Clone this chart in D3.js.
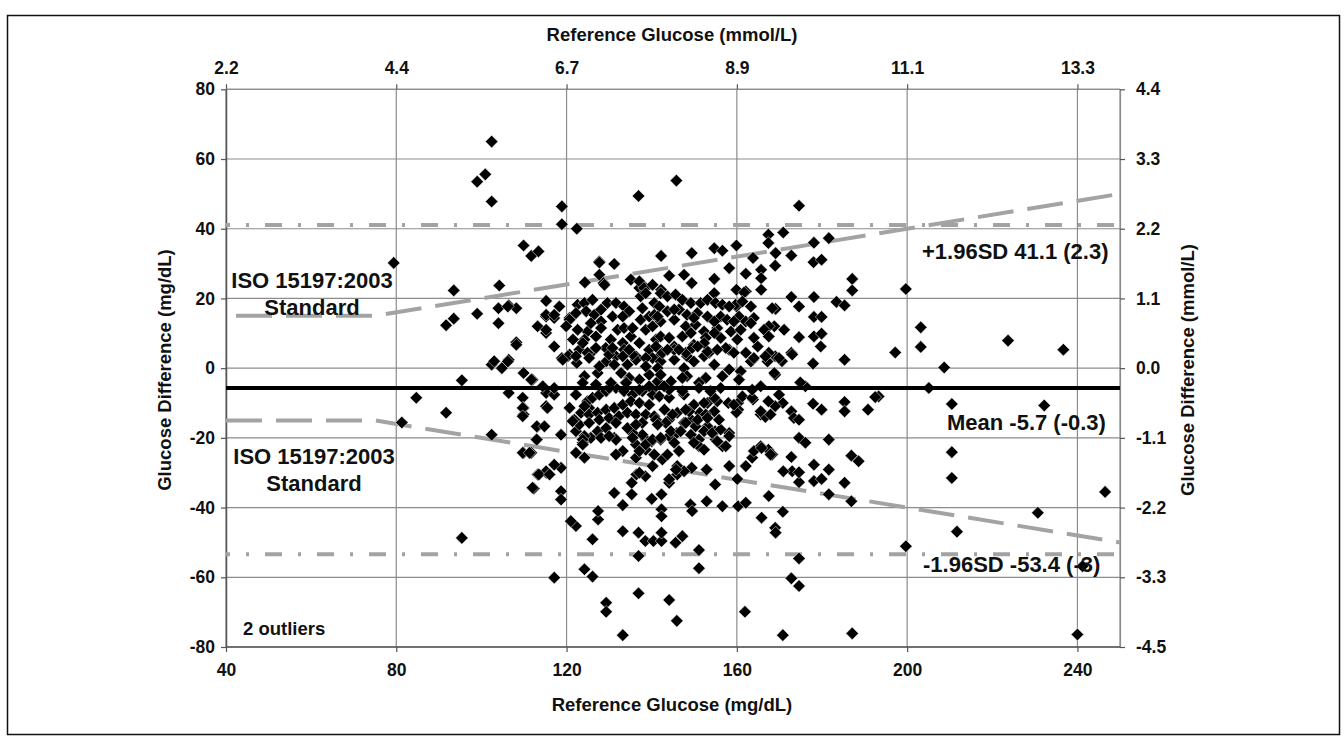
<!DOCTYPE html>
<html><head><meta charset="utf-8">
<script src="https://cdn.jsdelivr.net/npm/d3@7"></script>
<style>body{margin:0;background:#fff}</style>
</head><body>
<svg id="c" width="1344" height="743"></svg>
<script>
// ---- data ----
const xTicks = [40, 80, 120, 160, 200, 240];
const xTopLabels = ["2.2", "4.4", "6.7", "8.9", "11.1", "13.3"];
const yTicks = [80, 60, 40, 20, 0, -20, -40, -60, -80];
const yRightLabels = ["4.4", "3.3", "2.2", "1.1", "0.0", "-1.1", "-2.2", "-3.3", "-4.5"];
const meanDiff = -5.7;
const upperSD = 41.1;
const lowerSD = -53.4;
const isoX = [40, 75, 250];
const isoUpper = [15, 15, 50];
const isoLower = [-15, -15, -50];
const annotations = ["ISO 15197:2003", "Standard", "+1.96SD 41.1 (2.3)", "Mean -5.7 (-0.3)", "-1.96SD -53.4 (-3)", "2 outliers"];
// [reference glucose mg/dL, difference mg/dL]
const points = [
[79.4,30.2],[81.3,-15.6],[84.7,-8.5],[91.7,-12.8],[95.4,-3.5],[95.4,-48.7],
[102.4,1],[103,2],[104.8,0],[106.4,2.4],[106.4,-7.1],[108.2,7.4],[102.4,-19.1],[109.9,-1.4],[109.7,-8.5],[109.9,-11.4],[109.9,-13.3],[109.9,-24.3],[111.7,-24.3],[112,-3.3],[113.1,-16.8],[112.9,-20.5],[113.2,-30.5],[112.3,-34.5],[115.2,-30],[115.2,-11],[115.2,-7.1],
[102.4,65],[99,53.5],[100.9,55.6],[102.4,47.8],[93.5,22.3],[91.7,12.3],[93.5,14.2],[99,15.6],[104.2,23.7],[104,17.2],[106.4,18],[108.2,17.2],[104,12.9],[109.9,35.2],[111.7,32.2],[113.4,33.5],[115.2,19.3],[115.2,14.8],[113.2,12],[115.2,10.1],
[118.9,46.4],[118.9,41.3],[122.4,40],[136.9,49.4],[145.8,53.8],[174.6,46.6],
[127.7,30.6],[131.2,29.9],[127.7,26.8],[128.7,24.4],[124.3,24.6],[117.1,14.4],[117.1,6.2],[120.7,14.4],[106.2,17.7],
[142.2,32.2],[149.4,33],[154.7,34.4],[156.6,33.7],[159.9,35.2],[158.2,28.7],[163.8,31.6],[167.4,38.3],[167.4,35.9],[170.9,38.9],[169.1,33],[172.8,32.3],[169,29.4],[178.1,36],[181.6,37.3],[178,30.4],[179.9,31.1],[187.1,25.6],[187.1,22.3],[183.4,19],[185.3,18],[178.1,20.4],[172.8,20.4],[174.6,17.7],[178.1,14.7],[169.1,17],[178.1,9.1],[179.9,9.9],[174.6,8.9],[165.7,28.2],[165.7,25.8],[165.7,22.5],[162.1,27.1],[162.1,22],[154.7,25.6],[154.7,21.5],[149.4,24.4],[147.6,26.8],[144.1,26.5],[135.1,25.4],[137.1,23],[138.6,23],[142.2,22.5],[159.9,22.5],[161.7,21.7],[159.9,17.7],[168.8,12],[171.1,11],[172.8,4.4],[179.9,14.7],[197.2,4.5],
[199.7,22.7],[203.2,11.7],[203.2,6.1],[223.7,7.9],[236.7,5.3],
[208.7,0.2],[205.1,-5.7],[210.5,-10.3],[232.2,-10.7],[210.5,-24.1],[210.5,-31.5],[246.5,-35.5],[230.7,-41.5],[211.7,-46.9],[199.7,-51.1],[241.2,-56.8],[240,-76.4],[193.3,-8.1],
[117.1,-60.1],[124.2,-57.7],[126.1,-59.8],[129.3,-67.3],[129.3,-69.9],[133.2,-76.6],[136.9,-64.6],[136.9,-53.9],[144.1,-66.5],[145.9,-72.5],[151.1,-52.2],[151.1,-57.4],[161.9,-69.9],[170.8,-76.6],[172.8,-60.3],[174.6,-62.5],[174.6,-54.6],[187.1,-76.1],
[133.2,-46.8],[136.9,-47.2],[138.5,-49.6],[140.4,-49.6],[142.3,-49.6],[142.3,-47.2],[145.6,-50.1],[147.2,-48.2],[126.1,-49.1],[127.4,-43.4],[127.4,-41],[122.2,-45.3],[121,-43.9],
[131.2,-35.8],[133.2,-39.3],[135.3,-36.2],[135.3,-32.9],[136.4,-30.5],[138.5,-31],[140,-37.5],[142.3,-36.2],[142.3,-40.5],[142.3,-42.5],[144.1,-32.9],[146,-30.5],[146,-28.1],[149.1,-39.1],[149.5,-41],[152.9,-38.2],[154.9,-33.4],[156.6,-39.6],[160.3,-39.6],[162.1,-38.6],[160.1,-31.8],[165.8,-42.9],[169,-45.8],[169.1,-47.2],[170.8,-41.2],[167.5,-36.7],
[173,-29.6],[174.6,-32.7],[174.6,-29.9],[178.1,-27.7],[178.1,-32.4],[179.9,-31.8],[181.6,-29.1],[181.6,-36.2],[185.3,-32.9],[186.9,-38.2],[186.9,-25.1],[188.6,-26.7],[170.9,-29.6],[172.8,-25.5],[174.6,-20],[176.1,-21.4],[181.6,-20.5],
[190.8,-11.9],[192.5,-8.3],[185.3,-9.7],[185.3,-12.4],[179.9,-11.9],[177.9,-10.2],[172.8,-12.4],[173.4,-14.3],[174.6,-14.8],[176.1,-5.2],[174.9,-4.1],[185.3,2.4],[177.9,1.3],[179.7,6.2],[173,3.9],[169,3.4],[170.6,2],[169,-1.9],[170.8,-10],[169,-10.9],[167.4,-9.5],[165.6,-13.3],[166.7,-14],[163.8,-9],[163.8,2.4],[162.1,4.4],[160.3,-10],[160.3,-11.9],[158.2,5.3],[158.2,-18.6],[158.2,-28.1],[162.1,-28.1],[163.6,-25.7],[165.6,-22.4],[167.4,-23.4],[168.3,-24.8],
[156.6,-22.4],[155,-20.5],[154.9,-18.1],[153.1,-16.7],[151.1,-20.5],[151.1,-22.4],[152.9,-29.1],[149.4,-28.6],[147.6,-29.6],[145.7,-29.1],[144.1,-31.9],[140.2,-28.1],[137.1,-30],[142.5,-26.2],[140,-21],[142.1,-20.5],[144.1,-19.5],[145.9,-18.6],[147.6,-15.7],[149.3,-14.8],[151.3,-12.8],[153.1,-10],[155.4,-9.5],[158,-10],[159.9,-12.7],
[138.6,-20.5],[136.7,-22.4],[138.6,-23.4],[136.3,-25.7],[133.2,-23.8],[131.6,-24.8],[131.2,-20],[127.7,-19.5],[125.7,-20],[124.2,-19.5],[123.8,-21.4],[122.2,-18.1],[122.2,-15.2],[123.4,-12.8],[125.3,-11.4],[124.9,-9.5],[124.2,-25.7],[122.2,-24.3],
[118.7,-19.1],[118.7,-28.6],[118.7,-35.3],[118.7,-37.7],[117.1,-27.7],[115.2,-29.6],[113.5,-30.5],[116,-30.5],[112,-34.3],[109.7,-24.3],[111.3,-24.3],[113,-20.5],[113,-16.7],[120.7,-11.4],[115.2,-10.9],[117.1,-7.6],[109.7,-11.4],[109.7,-13.8],[111.7,-3.3],[106.2,1.9],[108.2,6.7],[118.9,2.9],[120.7,3.9],[122.4,1.5],
[127.7,30.3],[128.9,23.9],[115.2,15.3],[117.1,15.3],[115.2,11],[120.7,13.9],[122.6,18.2],[124.2,18.7],[126.1,19.6],[124.6,16.3],[126.5,15.3],[128.1,16.8],[129.6,18.7],[131.6,18.7],[133.5,17.7],[134.7,16.3],[128.1,13.4],[128.1,11.5],[124.9,10.5],[122.6,11],[124.2,8.2],[126.9,9.1],[132,11],[133.5,11.5],[135.1,9.1],[133.2,7.2],[130.4,8.2],[129.2,5.8],[126.1,4.8],[123,5.3],[120.3,3.4],
[137.4,13.9],[137.1,24.9],[138.2,23],[137.4,20.6],[138.6,21.5],[140.2,23.9],[140.6,18.7],[137.8,17.2],[139.4,14.8],[138.6,11],[137.1,7.2],[139.4,5.3],[141,8.2],[136.3,3.4],[131.6,3.4],
[159.7,18.2],[161.3,19.1],[163.3,17.7],[168.3,17.2],[167.5,12],[142.1,21.5],[143.7,20.6],[145.6,21.1],[147.2,19.6],[149.2,18.7],[151.5,18.7],[153.1,19.6],[155,18.7],[156.6,18.2],[158.2,17.7],[141.8,17.7],[143.7,16.3],[146.4,16.8],[148.3,15.3],[150.7,15.8],[153.1,14.8],[156.2,14.8],[157.7,13.9],[160.5,14.8],[162.1,13.4],[164,14.4],
[142.1,13.4],[145.3,13.9],[148,12],[150.3,12.5],[152.3,10.5],[155.4,11.5],[158.6,10.5],[160.9,11],[163.3,12.9],[166.4,11],[167.5,9.1],[164,8.7],[164.9,6.2],[142.1,9.1],[144.1,8.7],[147.2,9.1],[152.7,8.7],[156.2,8.7],[160.1,8.2],[145.3,6.2],[149.9,6.7],[153.5,4.4],[157.4,5.8],[159.3,4.4],[167.5,4.4],[148.3,3.4],[141.8,3.4],
[122.2,3.4],[124.2,-2.3],[127.3,-1.4],[129.3,1.9],[131.2,1],[132.8,-1.4],[134.7,-2.8],[137.1,-3.3],[139.4,-1.9],[134.3,1],[136.3,2.4],[140.2,2.9],[117.1,-5.7],[122.2,-7.6],[124.2,-10.9],[126.1,-8.5],[127.7,-7.6],[129.3,-6.6],[131.6,-5.7],[133.5,-6.6],[135.5,-7.6],[137.8,-6.6],[140.2,-7.6],
[125.3,-13.3],[127.3,-12.8],[129.3,-11.9],[131.2,-11.4],[133.2,-10.5],[135.1,-9.5],[137.1,-10],[139.4,-10.5],[123,-16.2],[125.3,-15.7],[127.7,-14.8],[130,-14.3],[132.3,-13.8],[134.3,-12.8],[136.3,-13.3],[138.6,-13.3],[140.6,-13.8],[123.8,-20.5],[131.6,-20.5],[137.8,-19.1],[136.3,-21.9],[138.6,-21.9],[140.2,-20.5],[123.8,-21.9],[115.5,-11.4],[114.8,-16.7],[137.1,-23.8],[140.6,-24.8],
[142.1,1.9],[145.3,2.4],[147.6,0],[149.9,1.9],[152.3,3.4],[154.7,1],[156.6,-2.3],[158.2,-0.4],[160.9,-0.9],[163.3,1.9],[164,2.9],[167.2,1.9],[168.8,-1.4],[169.9,2.9],[148.3,-2.3],[152.7,-2.8],
[141.8,-8.1],[144.1,-8.5],[147.6,-7.6],[149.9,-10.5],[152.3,-10],[154.7,-8.5],[154.7,-12.4],[148.8,-12.4],[146,-12.8],[143,-11.9],[144.1,-14.8],[148,-15.7],[150.3,-16.7],[152.3,-18.1],[154.2,-18.6],[156.2,-17.6],[158.2,-19.5],[155.4,-21],[157.4,-22.4],[142.1,-20],[145.3,-21.4],[146.4,-23.8],[159.3,-10.5],[161.3,-8.1],[163.6,-8.5],[165.6,-12.4],[167.9,-13.3],[169.9,-7.6],[164,-23.8],[165.8,-22.9],[167.9,-24.8],
[123.8,7.2],[124.9,4.4],[126.9,5.8],[130,3.9],[133.5,5.3],[135.5,3.9],[138.6,2.9],[141,6.2],[142.5,4.4],[145.3,5.3],[148,4.4],[149.5,5.8],[153.1,4.8],[152.3,7.2],[166.7,3.4],
[151.1,-4.2],[147.2,-2.8],[144.1,-6.2],[141,-5.2],[137.1,-6.2],[133.9,-4.2],[130,-5.7],[126.9,-4.7],[123.8,-4.2],[160.5,-3.3],[163.6,-6.2],[165.6,-5.2],
[121.8,-14.8],[135.5,-18.6],[137.8,-15.7],[141,-14.8],[143.3,-15.7],[144.9,-13.3],[148,-11.9],[152.7,-13.3],
[119.1,2.4],[125.3,2.9],[127.7,0.5],[133.2,3.4],[138.6,0.5],[141.4,0],[114.4,-5.2],[130.4,-4.2],[134,-4.2],[139.4,-5.2],[141.4,-3.8],
[127.3,-18.1],[129.3,-17.2],[134.3,-17.2],[136.3,-16.2],[128.1,-20],[130,-19.5],[135.5,-20],[131.6,-15.7],[121.4,-15.2],
[142.1,-1.9],[144.5,-3.8],[151.1,-5.7],[153.8,-6.6],[156.2,-5.7],[144.5,-18.1],[146.8,-18.1],[149.2,-19.1],[150.8,-14.8],[153.1,-14.3],[155.8,-14.8],[141.4,-16.2],[143.7,-24.8],[149.9,-21.4],[152.3,-23.4],[147.2,-6.6],[142.9,-5.2],
[118.3,17.7],[119.9,12],[121.5,8.2],[130.8,14.8],[133.2,14.8],[130.8,5.8],[134.7,5.3],[140.2,12],[140.6,15.3],[125.7,12.9],[122.2,15.8],[135.5,11.5],
[141.4,14.8],[145.3,16.8],[149.9,14.4],[154.7,13.4],[159.3,13.4],[149.2,10.1],[154.7,10.1],[150.8,6.2],[155.4,5.3],[146.4,5.3],[143.7,5.3]
];

// ---- layout ----
const svg = d3.select("#c");
const L = 226, R = 1120, T = 89.3, B = 647;
const x = d3.scaleLinear().domain([40, 250]).range([L, R]);
const y = d3.scaleLinear().domain([-80, 80]).range([B, T]);
const FONT = "'Liberation Sans', Arial, Helvetica, sans-serif";
const gridColor = "#8c8c8c";
const refColor = "#a3a3a3";

// outer frame
svg.append("rect").attr("x", 7.5).attr("y", 15.5).attr("width", 1332).attr("height", 719)
  .attr("fill", "none").attr("stroke", "#111").attr("stroke-width", 1.5);

// grid
const g = svg.append("g");
g.selectAll("line.hg").data(yTicks).join("line")
  .attr("x1", L).attr("x2", R).attr("y1", d => y(d)).attr("y2", d => y(d))
  .attr("stroke", gridColor).attr("stroke-width", 1.2);
g.selectAll("line.vg").data(xTicks).join("line")
  .attr("y1", T).attr("y2", B).attr("x1", d => x(d)).attr("x2", d => x(d))
  .attr("stroke", gridColor).attr("stroke-width", 1.2);
g.append("line").attr("x1", R).attr("x2", R).attr("y1", T).attr("y2", B)
  .attr("stroke", gridColor).attr("stroke-width", 1.2);

// axes
const axisStyle = sel => {
  sel.select(".domain").attr("stroke", "#555").attr("stroke-width", 1.5);
  sel.selectAll(".tick line").attr("stroke", "#555").attr("stroke-width", 1.2);
  sel.selectAll("text").attr("font-family", FONT).attr("font-weight", "bold").attr("font-size", 17.5).attr("fill", "#111");
};
const plain = d => String(d);
svg.append("g").attr("transform", `translate(${L},0)`)
  .call(d3.axisLeft(y).tickValues(yTicks).tickSize(5).tickSizeOuter(0).tickPadding(6).tickFormat(plain))
  .call(axisStyle);
svg.append("g").attr("transform", `translate(${R},0)`)
  .call(d3.axisRight(y).tickValues(yTicks).tickSize(5).tickSizeOuter(0).tickPadding(11)
    .tickFormat((d, i) => yRightLabels[i]))
  .call(axisStyle)
  .call(s => s.select(".domain").attr("stroke", gridColor).attr("stroke-width", 1.2));
svg.append("g").attr("transform", `translate(0,${B})`)
  .call(d3.axisBottom(x).tickValues(xTicks).tickSize(5).tickSizeOuter(0).tickPadding(12).tickFormat(plain))
  .call(axisStyle)
  .call(s => s.select(".domain").attr("d", `M${L},0H${R}`));
svg.append("g").attr("transform", `translate(0,${T})`)
  .call(d3.axisTop(x).tickValues(xTicks).tickSize(5).tickSizeOuter(0).tickPadding(10)
    .tickFormat((d, i) => xTopLabels[i]))
  .call(axisStyle)
  .call(s => s.select(".domain").attr("stroke", gridColor).attr("stroke-width", 1.2).attr("d", `M${L},0H${R}`));

// axis titles
const title = (txt, tx, ty, rot) => svg.append("text")
  .attr("transform", `translate(${tx},${ty}) rotate(${rot})`)
  .attr("text-anchor", "middle").attr("font-family", FONT).attr("font-weight", "bold")
  .attr("font-size", 18.5).attr("fill", "#111").text(txt);
title("Reference Glucose (mmol/L)", 672, 41, 0);
title("Reference Glucose (mg/dL)", 672, 711, 0);
title("Glucose Difference (mg/dL)", 171, 370, -90);
title("Glucose Difference (mmol/L)", 1194, 370, -90);

// reference lines
const line = d3.line().x(d => x(d[0])).y(d => y(d[1]));
svg.append("path").datum(isoX.map((v, i) => [v, isoUpper[i]])).attr("d", line)
  .attr("fill", "none").attr("stroke", refColor).attr("stroke-width", 4)
  .attr("stroke-dasharray", "36,14").attr("stroke-dashoffset", -10);
svg.append("path").datum(isoX.map((v, i) => [v, isoLower[i]])).attr("d", line)
  .attr("fill", "none").attr("stroke", refColor).attr("stroke-width", 4)
  .attr("stroke-dasharray", "36,14");
[upperSD, lowerSD].forEach(v => {
  svg.append("path").datum([[40, v], [250, v]]).attr("d", line)
    .attr("fill", "none").attr("stroke", refColor).attr("stroke-width", 4)
    .attr("stroke-dasharray", "17,16,3,16").attr("stroke-dashoffset", 13);
});

// points
svg.append("g").selectAll("path").data(points).join("path")
  .attr("transform", d => `translate(${x(d[0])},${y(d[1])})`)
  .attr("d", "M0,-6.3L6.3,0L0,6.3L-6.3,0Z")
  .attr("fill", "#000").attr("stroke", "#fff").attr("stroke-width", 0.5);

// mean line
svg.append("path").datum([[40, meanDiff], [250, meanDiff]]).attr("d", line)
  .attr("fill", "none").attr("stroke", "#000").attr("stroke-width", 4);

// annotations
const ann = (txt, tx, ty, anchor, size) => svg.append("text")
  .attr("x", tx).attr("y", ty).attr("text-anchor", anchor)
  .attr("font-family", FONT).attr("font-weight", "bold").attr("font-size", size)
  .attr("fill", "#111").text(txt);
ann(annotations[0], 312, 288, "middle", 22);
ann(annotations[1], 312, 315, "middle", 22);
ann(annotations[0], 314, 464, "middle", 22);
ann(annotations[1], 314, 491, "middle", 22);
ann(annotations[2], 922, 259, "start", 22);
ann(annotations[3], 947, 430, "start", 22);
ann(annotations[4], 923, 572, "start", 22);
ann(annotations[5], 243, 635, "start", 18.5);
</script>
</body></html>
